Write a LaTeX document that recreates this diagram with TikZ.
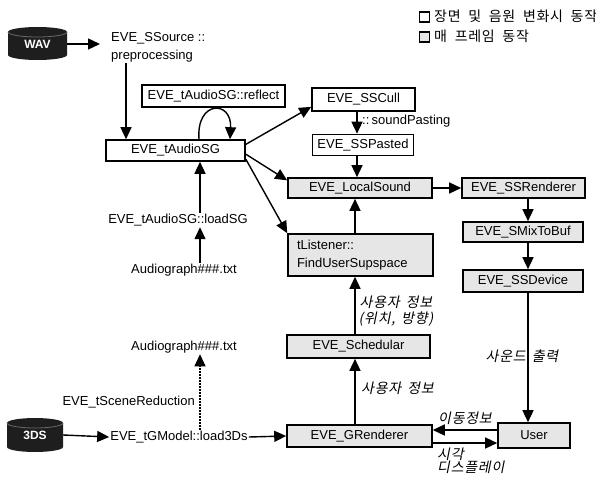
\documentclass[tikz,border=0pt]{standalone}
\usepackage{fontspec}
\setmainfont{Liberation Sans}
\newfontfamily\kr[WordSpace=2.0,LetterSpace=5]{Noto Sans CJK KR}
\newfontfamily\krit[FakeSlant=0.2,WordSpace=1.6,LetterSpace=5]{Noto Sans CJK KR}
\usetikzlibrary{arrows.meta,calc}
\definecolor{boxgray}{HTML}{E6E6E6}
\definecolor{dbfill}{HTML}{1E1E1E}
\definecolor{dbrim}{HTML}{6A6A6A}
\begin{document}
\begin{tikzpicture}[x=1pt,y=-1pt,
  every node/.style={font=\fontsize{13}{18}\selectfont, inner sep=1pt},
  box/.style={draw, line width=1.6pt, inner sep=0pt, fill=white},
  live/.style={box, fill=boxgray},
  arr/.style={line width=1.4pt, -{Triangle[length=12pt,width=11pt]}},
  lbl/.style={font=\krit\fontsize{14}{16}\selectfont},
  db/.style={text=white, font=\bfseries\fontsize{12}{14}\selectfont, inner sep=0pt},
  keybox/.style={draw, line width=1.5pt, minimum size=10pt, inner sep=0pt},
  keytext/.style={anchor=west, font=\kr\fontsize{14}{16}\selectfont},
]
\useasboundingbox (0,0) rectangle (596,476);
\fill[white] (0,0) rectangle (596,476);

% drums for the data sources
\fill[dbfill] (8,32) -- (8,55) arc[start angle=180,end angle=0,x radius=29.5,y radius=5]
  -- (67,32) arc[start angle=0,end angle=-180,x radius=29.5,y radius=5] -- cycle;
\draw[dbrim, line width=0.8pt] (8,32) arc[start angle=180,end angle=0,x radius=29.5,y radius=5];
\fill[dbfill] (7,423) -- (7,447) arc[start angle=180,end angle=0,x radius=28,y radius=5]
  -- (63,423) arc[start angle=0,end angle=-180,x radius=28,y radius=5] -- cycle;
\draw[dbrim, line width=0.8pt] (7,423) arc[start angle=180,end angle=0,x radius=28,y radius=5];
\node[db, minimum width=59pt, minimum height=33pt] (wav) at (37.5,44) {WAV};
\node[db, minimum width=56pt, minimum height=34pt] (tds) at (35,435) {3DS};

% legend
\node[keybox] (key1) at (424.5,17) {};
\node[keybox, fill=boxgray] (key2) at (424.5,37) {};
\node[keytext] (key1t) at (433,16) {장면 및 음원 변화시 동작};
\node[keytext] (key2t) at (433,36) {매 프레임 동작};

% columns and rows used by straight connectors
\coordinate (colP) at (126,0);
\coordinate (colL) at (200,0);
\coordinate (colA) at (357,0);
\coordinate (colC) at (355,0);
\coordinate (colB) at (528,0);
\coordinate (rowT) at (0,430);
\coordinate (rowB) at (0,443);
\coordinate (loopL) at (199,0);
\coordinate (loopR) at (230,0);

% boxes
\node[box, minimum width=143pt, minimum height=22pt] (reflect) at (213.5,96) {EVE\_tAudioSG::reflect};
\node[box, minimum width=139pt, minimum height=21pt] (asg) at (175.5,150.5) {EVE\_tAudioSG};
\node[box, minimum width=103pt, minimum height=23pt] (sscull) at (363.5,99.5) {EVE\_SSCull};
\node[box, minimum width=101pt, minimum height=21pt] (sspasted) at (363,145) {EVE\_SSPasted};
\node[live, minimum width=144pt, minimum height=20pt] (localsound) at (360,188) {EVE\_LocalSound};
\node[live, minimum width=145pt, minimum height=42pt, text width=127pt, align=left] (tlistener) at (360.5,255) {tListener::\\FindUserSupspace};
\node[live, minimum width=123pt, minimum height=20pt] (ssrenderer) at (523.5,188) {EVE\_SSRenderer};
\node[live, minimum width=120pt, minimum height=20pt] (smix) at (523,232) {EVE\_SMixToBuf};
\node[live, minimum width=120pt, minimum height=22pt] (ssdevice) at (523,281) {EVE\_SSDevice};
\node[live, minimum width=143pt, minimum height=23pt] (sched) at (358.5,346.5) {EVE\_Schedular};
\node[live, minimum width=145pt, minimum height=22pt] (grend) at (359.5,436) {EVE\_GRenderer};
\node[live, minimum width=72pt, minimum height=25pt] (user) at (534,435.5) {User};

% free-standing function names
\node[anchor=west, inner xsep=11pt, align=left] (src) at (100,47) {EVE\_SSource ::\\preprocessing};
\node (loadsg) at (178,220) {EVE\_tAudioSG::loadSG};
\node (ag1) at (184,270) {Audiograph\#\#\#.txt};
\node (ag2) at (184,347) {Audiograph\#\#\#.txt};
\node[anchor=east] (scene) at (196,402) {EVE\_tSceneReduction};
\node (load3ds) at (179,437) {EVE\_tGModel::load3Ds};

% connectors
\draw[arr] (wav.east) -- (wav.east -| src.west);
\draw[arr] (src.south -| colP) -- (asg.north -| colP);
\draw[arr] (asg.north -| loopL) .. controls (196,100) and (232,100) .. (asg.north -| loopR);
\draw[arr] (asg.5) -- (sscull.188);
\draw[arr] (asg.-3) -- (localsound.174);
\draw[arr] (asg.-7) -- (tlistener.north west);
\draw[arr] (loadsg.north -| colL) -- (asg.south -| colL);
\draw[arr] (ag1.north -| colL) -- (loadsg.south -| colL);
\draw[arr, line width=1.2pt, dash pattern=on 1.5pt off 1.5pt] (load3ds.north -| colL) -- (ag2.south -| colL);
\draw[arr] (tds.east) -- (load3ds.west);
\draw[arr] (load3ds.east) -- (grend.west);

\draw[arr] (sscull.south -| colA) -- (sspasted.north -| colA);
\node[anchor=west] (lpaste) at (361,121) {::\,soundPasting};
\draw[arr] (sspasted.south -| colA) -- (localsound.north -| colA);
\draw[arr] (tlistener.north -| colC) -- (localsound.south -| colC);
\draw[arr] (localsound.east) -- (ssrenderer.west);
\draw[arr] (ssrenderer.south -| colB) -- (smix.north -| colB);
\draw[arr] (smix.south -| colB) -- (ssdevice.north -| colB);
\draw[arr] (ssdevice.south -| colB) -- (user.north -| colB);
\node[lbl] (lsound) at (522,356) {사운드 출력};

\draw[arr] (sched.north -| colC) -- (tlistener.south -| colC);
\node[lbl, align=center] (lpos) at (396,311) {사용자 정보\\(위치, 방향)};
\draw[arr] (grend.north -| colC) -- (sched.south -| colC);
\node[lbl, anchor=west] (luser) at (360,388) {사용자 정보};

\draw[arr] (user.west |- rowT) -- (grend.east |- rowT);
\node[lbl] (lmove) at (465,418) {이동정보};
\draw[arr] (grend.east |- rowB) -- (user.west |- rowB);
\node[lbl, anchor=north west, align=left, font=\krit\fontsize{14}{13}\selectfont] (lview) at (436,447) {시각\\디스플레이};
\end{tikzpicture}
\end{document}
